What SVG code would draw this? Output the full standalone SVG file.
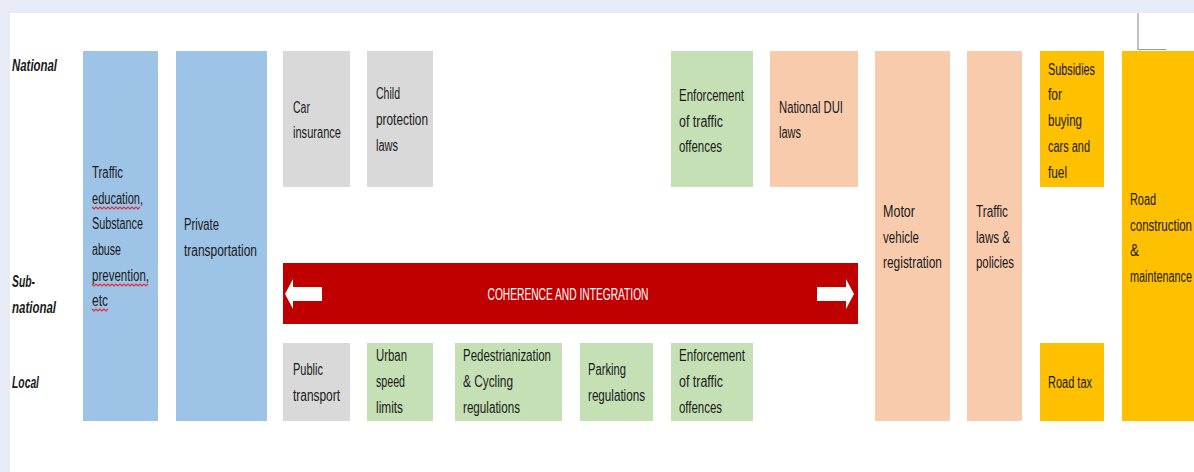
<svg xmlns="http://www.w3.org/2000/svg" width="1194" height="472" viewBox="0 0 1194 472">
<style>
.t{font-family:"Liberation Sans",Arial,sans-serif;font-size:16px;fill:#1a1a1a}
.lvl{font-family:"Liberation Sans",Arial,sans-serif;font-size:16px;font-style:italic;font-weight:bold;fill:#1a1a1a}
.w{font-family:"Liberation Sans",Arial,sans-serif;font-size:16px;fill:#ffffff}
.blue{fill:#9DC3E6}
.gray{fill:#D9D9D9}
.green{fill:#C5E0B4}
.salmon{fill:#F8CBAD}
.gold{fill:#FFC000}
.red{fill:#C00000}
.sq{fill:none;stroke:#E0303A;stroke-width:1.2}
</style>
<rect x="0" y="0" width="1194" height="472" fill="#E7EBF5"/>
<rect x="10" y="13" width="1184" height="459" fill="#ffffff"/>
<g id="deco">
<polyline points="1138,13 1138,49.5 1166,49.5" fill="none" stroke="#999999" stroke-width="1.2"/>
</g>
<g id="levels">
<text class="lvl" x="12" y="71" textLength="45" lengthAdjust="spacingAndGlyphs">National</text>
<text class="lvl" x="12" y="287" textLength="23" lengthAdjust="spacingAndGlyphs">Sub-</text>
<text class="lvl" x="12" y="313" textLength="44" lengthAdjust="spacingAndGlyphs">national</text>
<text class="lvl" x="12" y="388" textLength="27" lengthAdjust="spacingAndGlyphs">Local</text>
</g>
<g id="traffic-education">
<rect class="blue" x="83" y="51" width="75" height="370"/>
<text class="t" x="92" y="178" textLength="31" lengthAdjust="spacingAndGlyphs">Traffic</text>
<text class="t" x="92" y="204" textLength="51" lengthAdjust="spacingAndGlyphs">education,</text>
<text class="t" x="92" y="229" textLength="51" lengthAdjust="spacingAndGlyphs">Substance</text>
<text class="t" x="92" y="255" textLength="29" lengthAdjust="spacingAndGlyphs">abuse</text>
<text class="t" x="92" y="281" textLength="57" lengthAdjust="spacingAndGlyphs">prevention,</text>
<text class="t" x="92" y="306" textLength="16" lengthAdjust="spacingAndGlyphs">etc</text>
<path class="sq" d="M92,207 l2,2 l2,-2 l2,2 l2,-2 l2,2 l2,-2 l2,2 l2,-2 l2,2 l2,-2 l2,2 l2,-2 l2,2 l2,-2 l2,2 l2,-2 l2,2 l2,-2 l2,2 l2,-2 l2,2 l2,-2 l2,2 l2,-2"/>
<path class="sq" d="M92,284 l2,2 l2,-2 l2,2 l2,-2 l2,2 l2,-2 l2,2 l2,-2 l2,2 l2,-2 l2,2 l2,-2 l2,2 l2,-2 l2,2 l2,-2 l2,2 l2,-2 l2,2 l2,-2 l2,2 l2,-2 l2,2 l2,-2 l2,2 l2,-2 l2,2 l2,-2"/>
<path class="sq" d="M92,309 l2,2 l2,-2 l2,2 l2,-2 l2,2 l2,-2 l2,2 l2,-2"/>
</g>
<g id="private-transportation">
<rect class="blue" x="176" y="51" width="91" height="370"/>
<text class="t" x="184" y="230" textLength="35" lengthAdjust="spacingAndGlyphs">Private</text>
<text class="t" x="184" y="256" textLength="73" lengthAdjust="spacingAndGlyphs">transportation</text>
</g>
<g id="car-insurance">
<rect class="gray" x="283" y="51" width="67" height="136"/>
<text class="t" x="293" y="113" textLength="17" lengthAdjust="spacingAndGlyphs">Car</text>
<text class="t" x="293" y="138" textLength="48" lengthAdjust="spacingAndGlyphs">insurance</text>
</g>
<g id="child-protection">
<rect class="gray" x="367" y="51" width="66" height="136"/>
<text class="t" x="376" y="99" textLength="24" lengthAdjust="spacingAndGlyphs">Child</text>
<text class="t" x="376" y="125" textLength="52" lengthAdjust="spacingAndGlyphs">protection</text>
<text class="t" x="376" y="151" textLength="22" lengthAdjust="spacingAndGlyphs">laws</text>
</g>
<g id="enforcement-national">
<rect class="green" x="671" y="51" width="82" height="136"/>
<text class="t" x="679" y="101" textLength="65" lengthAdjust="spacingAndGlyphs">Enforcement</text>
<text class="t" x="679" y="127" textLength="44" lengthAdjust="spacingAndGlyphs">of traffic</text>
<text class="t" x="679" y="152" textLength="43" lengthAdjust="spacingAndGlyphs">offences</text>
</g>
<g id="national-dui">
<rect class="salmon" x="770" y="51" width="88" height="136"/>
<text class="t" x="779" y="113" textLength="64" lengthAdjust="spacingAndGlyphs">National DUI</text>
<text class="t" x="779" y="138" textLength="22" lengthAdjust="spacingAndGlyphs">laws</text>
</g>
<g id="motor-vehicle-registration">
<rect class="salmon" x="875" y="51" width="75" height="370"/>
<text class="t" x="883" y="217" textLength="32" lengthAdjust="spacingAndGlyphs">Motor</text>
<text class="t" x="883" y="243" textLength="36" lengthAdjust="spacingAndGlyphs">vehicle</text>
<text class="t" x="883" y="268" textLength="59" lengthAdjust="spacingAndGlyphs">registration</text>
</g>
<g id="traffic-laws">
<rect class="salmon" x="967" y="51" width="55" height="370"/>
<text class="t" x="976" y="217" textLength="32" lengthAdjust="spacingAndGlyphs">Traffic</text>
<text class="t" x="976" y="243" textLength="34" lengthAdjust="spacingAndGlyphs">laws &amp;</text>
<text class="t" x="976" y="268" textLength="38" lengthAdjust="spacingAndGlyphs">policies</text>
</g>
<g id="subsidies">
<rect class="gold" x="1040" y="51" width="64" height="136"/>
<text class="t" x="1048" y="75" textLength="47" lengthAdjust="spacingAndGlyphs">Subsidies</text>
<text class="t" x="1048" y="100" textLength="14" lengthAdjust="spacingAndGlyphs">for</text>
<text class="t" x="1048" y="126" textLength="34" lengthAdjust="spacingAndGlyphs">buying</text>
<text class="t" x="1048" y="152" textLength="42" lengthAdjust="spacingAndGlyphs">cars and</text>
<text class="t" x="1048" y="178" textLength="19" lengthAdjust="spacingAndGlyphs">fuel</text>
</g>
<g id="road-construction">
<rect class="gold" x="1122" y="51" width="80" height="370"/>
<text class="t" x="1130" y="205" textLength="26" lengthAdjust="spacingAndGlyphs">Road</text>
<text class="t" x="1130" y="231" textLength="62" lengthAdjust="spacingAndGlyphs">construction</text>
<text class="t" x="1130" y="256" textLength="9" lengthAdjust="spacingAndGlyphs">&amp;</text>
<text class="t" x="1130" y="282" textLength="62" lengthAdjust="spacingAndGlyphs">maintenance</text>
</g>
<g id="road-tax">
<rect class="gold" x="1040" y="343" width="64" height="78"/>
<text class="t" x="1048" y="388" textLength="44" lengthAdjust="spacingAndGlyphs">Road tax</text>
</g>
<g id="coherence-integration">
<rect class="red" x="283" y="263" width="575" height="61"/>
<polygon fill="#ffffff" points="817,287 846,287 846,279 854,294 846,309 846,301 817,301"/>
<polygon fill="#ffffff" points="322,287 293,287 293,279 285,294 293,309 293,301 322,301"/>
<text class="w" x="568" y="300" text-anchor="middle" textLength="161" lengthAdjust="spacingAndGlyphs">COHERENCE AND INTEGRATION</text>
</g>
<g id="public-transport">
<rect class="gray" x="283" y="343" width="67" height="78"/>
<text class="t" x="293" y="375" textLength="30" lengthAdjust="spacingAndGlyphs">Public</text>
<text class="t" x="293" y="401" textLength="47" lengthAdjust="spacingAndGlyphs">transport</text>
</g>
<g id="urban-speed-limits">
<rect class="green" x="367" y="343" width="66" height="78"/>
<text class="t" x="376" y="361" textLength="31" lengthAdjust="spacingAndGlyphs">Urban</text>
<text class="t" x="376" y="387" textLength="29" lengthAdjust="spacingAndGlyphs">speed</text>
<text class="t" x="376" y="413" textLength="27" lengthAdjust="spacingAndGlyphs">limits</text>
</g>
<g id="pedestrianization">
<rect class="green" x="455" y="343" width="107" height="78"/>
<text class="t" x="463" y="361" textLength="88" lengthAdjust="spacingAndGlyphs">Pedestrianization</text>
<text class="t" x="463" y="387" textLength="50" lengthAdjust="spacingAndGlyphs">&amp; Cycling</text>
<text class="t" x="463" y="413" textLength="57" lengthAdjust="spacingAndGlyphs">regulations</text>
</g>
<g id="parking-regulations">
<rect class="green" x="580" y="343" width="73" height="78"/>
<text class="t" x="588" y="375" textLength="38" lengthAdjust="spacingAndGlyphs">Parking</text>
<text class="t" x="588" y="401" textLength="57" lengthAdjust="spacingAndGlyphs">regulations</text>
</g>
<g id="enforcement-local">
<rect class="green" x="671" y="343" width="82" height="78"/>
<text class="t" x="679" y="361" textLength="66" lengthAdjust="spacingAndGlyphs">Enforcement</text>
<text class="t" x="679" y="387" textLength="44" lengthAdjust="spacingAndGlyphs">of traffic</text>
<text class="t" x="679" y="413" textLength="43" lengthAdjust="spacingAndGlyphs">offences</text>
</g>
<g id="connectors"></g>
</svg>
